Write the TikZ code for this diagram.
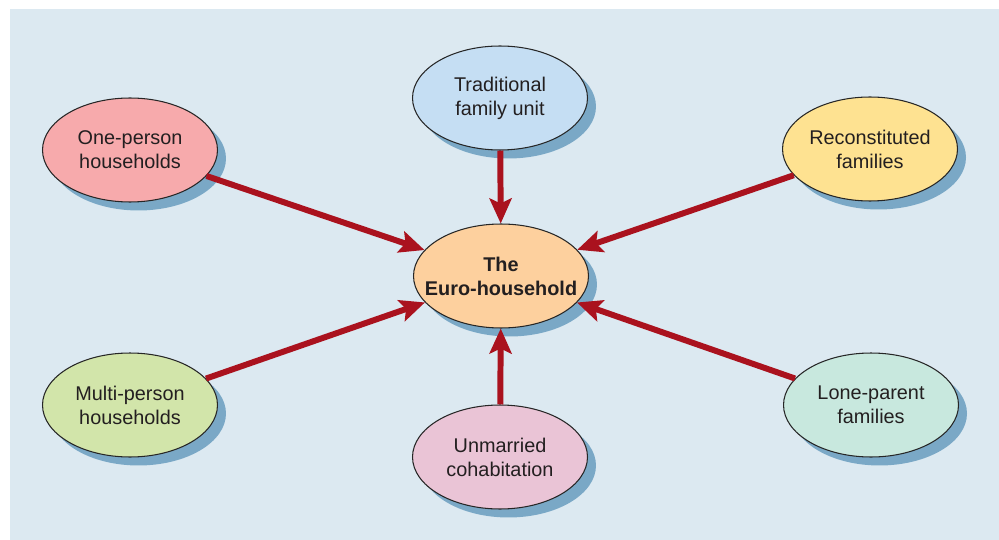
\documentclass[tikz,border=0pt]{standalone}
\usepackage{fontspec}
\setmainfont{Liberation Sans}
\usepackage{xcolor}
\usepackage{tikz}
\usetikzlibrary{shapes.geometric,arrows.meta,shadows}
\definecolor{bgcol}{RGB}{220,233,241}
\definecolor{shadcol}{RGB}{122,168,198}
\definecolor{arrcol}{RGB}{170,18,30}
\definecolor{txtcol}{RGB}{35,31,32}
\definecolor{eurocol}{RGB}{253,208,158}
\definecolor{tradcol}{RGB}{197,222,243}
\definecolor{onecol}{RGB}{247,170,172}
\definecolor{reconcol}{RGB}{254,226,145}
\definecolor{multicol}{RGB}{210,229,170}
\definecolor{lonecol}{RGB}{200,232,222}
\definecolor{unmarcol}{RGB}{234,196,214}

\begin{document}
\begin{tikzpicture}[x=0.02cm, y=-0.02cm,
    every node/.style={font=\fontsize{11.3}{13.6}\selectfont, text=txtcol},
    hhold/.style={ellipse, draw=black!85, line width=0.6pt,
      minimum width=3.5cm, minimum height=2.08cm, inner sep=0pt, align=center,
      drop shadow={shadow xshift=0.17cm, shadow yshift=-0.17cm,
        fill=shadcol, opacity=1}},
    feed/.style={draw=arrcol, line width=3.4pt,
      -{Stealth[length=0.5cm, width=0.44cm, inset=0.1cm]}}]

    \useasboundingbox (0,0) rectangle (999,540);
    \fill[bgcol] (10,9) rectangle (999,540);

    %% centre
    \node[hhold, fill=eurocol, font=\fontsize{11.3}{13.6}\selectfont\bfseries]
      (euro) at (501,276) {\makebox[0pt]{The}\\\makebox[0pt]{Euro-household}};

    %% household types
    \node[hhold, fill=tradcol]  (trad)  at (500,98)  {Traditional\\family unit};
    \node[hhold, fill=onecol]   (one)   at (130,150) {One-person\\households};
    \node[hhold, fill=reconcol] (recon) at (870,149) {Reconstituted\\families};
    \node[hhold, fill=multicol] (multi) at (130,405) {Multi-person\\households};
    \node[hhold, fill=lonecol]  (lone)  at (871,405) {Lone-parent\\families};
    \node[hhold, fill=unmarcol] (unmar) at (500,457) {Unmarried\\cohabitation};

    %% arrows into the centre
    \foreach \src in {trad,one,recon,multi,lone,unmar}
      \draw[feed] (\src) -- (euro);

  \end{tikzpicture}
\end{document}
